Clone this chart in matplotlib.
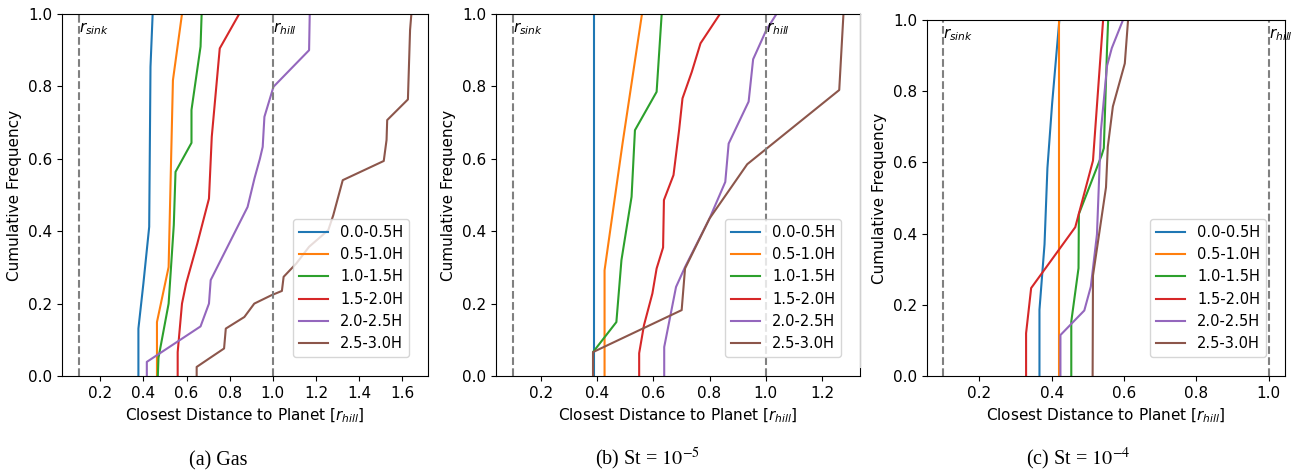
import matplotlib
matplotlib.use("Agg")
import matplotlib.pyplot as plt
from matplotlib.lines import Line2D
from matplotlib.ticker import MultipleLocator

# height bins (legend labels)
bins = ['0.0-0.5H', '0.5-1.0H', '1.0-1.5H', '1.5-2.0H', '2.0-2.5H', '2.5-3.0H']
colors = ['#1f77b4', '#ff7f0e', '#2ca02c', '#d62728', '#9467bd', '#8c564b']

r_sink = 0.1
r_hill = 1.0

# (a) gas - closest distance [r_hill] vs cumulative frequency
gas_x = [
    [0.377, 0.377, 0.400, 0.427, 0.433, 0.443],
    [0.463, 0.463, 0.517, 0.537, 0.579],
    [0.467, 0.470, 0.517, 0.541, 0.549, 0.623, 0.623, 0.665, 0.670],
    [0.559, 0.559, 0.579, 0.598, 0.650, 0.704, 0.717, 0.754, 0.844],
    [0.416, 0.416, 0.665, 0.704, 0.712, 0.883, 0.915, 0.940, 0.953, 0.961, 1.003, 1.168, 1.171],
    [0.647, 0.647, 0.704, 0.774, 0.782, 0.868, 0.914, 0.993, 1.042, 1.050, 1.109, 1.168,
     1.257, 1.280, 1.324, 1.514, 1.527, 1.530, 1.626, 1.636, 1.642],
]
gas_y = [
    [0.0, 0.131, 0.255, 0.412, 0.854, 1.0],
    [0.0, 0.149, 0.301, 0.817, 1.0],
    [0.0, 0.05, 0.200, 0.417, 0.564, 0.644, 0.735, 0.910, 1.0],
    [0.0, 0.066, 0.200, 0.255, 0.366, 0.490, 0.661, 0.905, 1.0],
    [0.0, 0.039, 0.137, 0.200, 0.265, 0.467, 0.546, 0.600, 0.633, 0.716, 0.799, 0.900, 1.0],
    [0.0, 0.025, 0.048, 0.076, 0.131, 0.163, 0.200, 0.223, 0.235, 0.274, 0.311, 0.357,
     0.403, 0.444, 0.541, 0.594, 0.652, 0.707, 0.764, 0.956, 1.0],
]

# (b) St = 1e-5
st5_x = [
    [0.388, 0.388],
    [0.427, 0.427, 0.491, 0.560],
    [0.386, 0.386, 0.469, 0.487, 0.523, 0.535, 0.612, 0.630],
    [0.550, 0.550, 0.567, 0.597, 0.612, 0.635, 0.638, 0.672, 0.692, 0.704, 0.737, 0.768, 0.837],
    [0.639, 0.639, 0.681, 0.713, 0.800, 0.856, 0.868, 0.939, 0.955, 1.002, 1.038],
    [0.386, 0.386, 0.701, 0.713, 0.800, 0.934, 1.261, 1.276],
]
st5_y = [
    [0.0, 1.0],
    [0.0, 0.292, 0.643, 1.0],
    [0.0, 0.066, 0.149, 0.320, 0.495, 0.679, 0.785, 1.0],
    [0.0, 0.063, 0.140, 0.228, 0.297, 0.355, 0.486, 0.555, 0.680, 0.767, 0.840, 0.919, 1.0],
    [0.0, 0.080, 0.246, 0.301, 0.435, 0.536, 0.642, 0.758, 0.875, 0.956, 1.0],
    [0.0, 0.066, 0.182, 0.297, 0.435, 0.585, 0.790, 1.0],
]

# (c) St = 1e-4
st4_x = [
    [0.366, 0.366, 0.380, 0.388, 0.401, 0.421],
    [0.419, 0.419],
    [0.454, 0.454, 0.474, 0.475, 0.538, 0.544, 0.553, 0.556],
    [0.329, 0.329, 0.343, 0.465, 0.514, 0.542],
    [0.424, 0.424, 0.490, 0.508, 0.525, 0.536, 0.553, 0.566, 0.597],
    [0.513, 0.514, 0.550, 0.555, 0.569, 0.602, 0.611],
]
st4_y = [
    [0.0, 0.186, 0.370, 0.584, 0.765, 1.0],
    [0.0, 1.0],
    [0.0, 0.153, 0.303, 0.455, 0.620, 0.640, 0.925, 1.0],
    [0.0, 0.120, 0.247, 0.418, 0.605, 1.0],
    [0.0, 0.115, 0.184, 0.251, 0.398, 0.690, 0.872, 0.921, 1.0],
    [0.0, 0.282, 0.530, 0.644, 0.757, 0.878, 1.0],
]

captions = ['(a) Gas', r'(b) St = $10^{-5}$', r'(c) St = $10^{-4}$']

plt.rcParams['font.size'] = 11

W, H = 1295, 471
fig = plt.figure(figsize=(W / 100, H / 100), dpi=100)

# axes boxes in pixels: left, right, top, bottom
boxes = [(62, 428, 14, 376), (496, 860, 14, 376), (927, 1285, 20, 376)]
panels = [(gas_x, gas_y), (st5_x, st5_y), (st4_x, st4_y)]
cap_x = [218, 647, 1078]

for (l, r, t, b), (xs, ys), cap, cx in zip(boxes, panels, captions, cap_x):
    ax = fig.add_axes([l / W, 1 - b / H, (r - l) / W, (b - t) / H])
    for x, y, lab, c in zip(xs, ys, bins, colors):
        ax.plot(x, y, color=c, lw=1.5, label=lab)
    ax.axvline(r_sink, color='gray', ls='--', lw=1.5)
    ax.axvline(r_hill, color='gray', ls='--', lw=1.5)
    ax.text(r_sink, 0.95, r'$r_{sink}$')
    ax.text(r_hill, 0.95, r'$r_{hill}$')
    ax.set_ylim(0, 1)
    ax.xaxis.set_major_locator(MultipleLocator(0.2))
    ax.set_ylabel('Cumulative Frequency')
    ax.set_xlabel(r'Closest Distance to Planet [$r_{hill}$]')
    ax.legend(loc='lower right', fontsize=10.5, borderaxespad=1.3)
    fig.text(cx / W, 1 - 465 / H, cap, ha='center', va='baseline', fontsize=14.5,
             family='Liberation Serif', math_fontfamily='stix')

# faint frame edge left of panel (c) in the source
fig.add_artist(Line2D([860 / W, 860 / W], [1 - 13 / H, 1 - 367 / H], color='#d0d0d0', lw=0.8))

fig.savefig('out.png', dpi=100)
